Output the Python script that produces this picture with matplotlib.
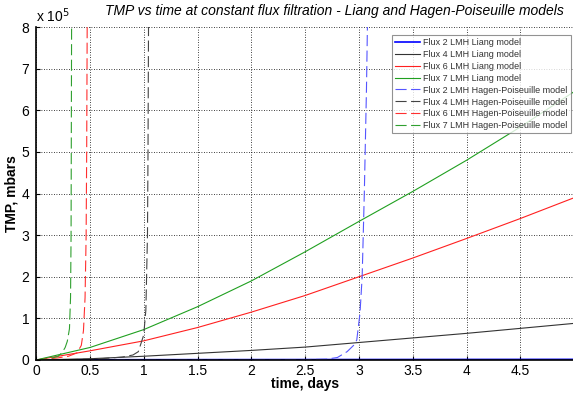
import matplotlib
matplotlib.use("Agg")
import matplotlib.pyplot as plt
from matplotlib.ticker import FuncFormatter

plt.rcParams["font.family"] = ["Liberation Sans", "DejaVu Sans"]

# Liang model (TMP in mbars)
t_liang = [0, 0.5, 1, 1.5, 2, 2.5, 3, 3.5, 4, 4.5, 5]
liang_flux2 = [0, 500, 700, 800, 900, 1000, 1100, 1200, 1300, 1400, 1500]
liang_flux4 = [0, 3000, 9000, 16000, 23000, 31000, 42000, 53000, 64000, 76000, 88000]
liang_flux6 = [0, 22000, 46000, 78000, 115000, 155000, 200000, 245000, 292000, 340000, 390000]
liang_flux7 = [0, 30000, 73000, 128000, 190000, 260000, 333000, 405000, 480000, 560000, 645000]

# Hagen-Poiseuille model
t_hp2 = [0, 1, 2, 2.5, 2.7, 2.8, 2.89, 2.95, 2.98, 3.01, 3.03, 3.05, 3.07, 3.08]
hp_flux2 = [0, 200, 500, 800, 2000, 6000, 20000, 35000, 48000, 113000, 200000, 400000, 650000, 820000]
t_hp4 = [0, 0.2, 0.4, 0.6, 0.8, 0.9, 0.95, 1.0, 1.02, 1.035, 1.04, 1.045]
hp_flux4 = [0, 500, 1500, 3000, 7000, 12000, 20000, 60000, 120000, 300000, 500000, 820000]
t_hp6 = [0, 0.1, 0.2, 0.3, 0.38, 0.42, 0.44, 0.455, 0.465, 0.47, 0.475]
hp_flux6 = [0, 2000, 5000, 9000, 17000, 35000, 70000, 150000, 300000, 500000, 820000]
t_hp7 = [0, 0.1, 0.2, 0.24, 0.27, 0.29, 0.31, 0.32, 0.325, 0.33]
hp_flux7 = [0, 2000, 8000, 17000, 30000, 45000, 75000, 150000, 300000, 820000]

fig = plt.figure(figsize=(5.73, 3.93), dpi=100)
ax = fig.add_axes([0.063, 0.084, 0.939, 0.847])

ax.plot(t_liang, liang_flux2, color="#0000ff", lw=1.2, label="Flux 2 LMH Liang model")
ax.plot(t_liang, liang_flux4, color="#333333", lw=0.8, label="Flux 4 LMH Liang model")
ax.plot(t_liang, liang_flux6, color="#ff2020", lw=0.8, label="Flux 6 LMH Liang model")
ax.plot(t_liang, liang_flux7, color="#20a020", lw=0.8, label="Flux 7 LMH Liang model")

dash = (10, 4)
ax.plot(t_hp2, hp_flux2, color="#5555ff", lw=0.8, dashes=dash, label="Flux 2 LMH Hagen-Poiseuille model")
ax.plot(t_hp4, hp_flux4, color="#444444", lw=0.8, dashes=dash, label="Flux 4 LMH Hagen-Poiseuille model")
ax.plot(t_hp6, hp_flux6, color="#ff3030", lw=0.8, dashes=dash, label="Flux 6 LMH Hagen-Poiseuille model")
ax.plot(t_hp7, hp_flux7, color="#30a030", lw=0.8, dashes=dash, label="Flux 7 LMH Hagen-Poiseuille model")

ax.set_xlim(0, 5)
ax.set_ylim(0, 800000)
ax.set_xticks([0, 0.5, 1, 1.5, 2, 2.5, 3, 3.5, 4, 4.5])
ax.set_yticks([i * 100000 for i in range(9)])
ax.xaxis.set_major_formatter(FuncFormatter(lambda v, p: "%g" % v))
ax.yaxis.set_major_formatter(FuncFormatter(lambda v, p: "%g" % (v / 1e5)))
ax.tick_params(labelsize=10, direction="in", length=3, width=0.8)
ax.tick_params(axis="x", pad=3)
ax.tick_params(axis="y", pad=5)
ax.grid(True, color="black", linestyle=(0, (1, 2)), linewidth=0.6)
for s in ["top", "right"]:
    ax.spines[s].set_visible(False)
for s in ["left", "bottom"]:
    ax.spines[s].set_linewidth(1.2)

ax.text(0.0, 1.005, "x 10$^5$", transform=ax.transAxes, fontsize=10, ha="left", va="bottom")
ax.set_title("TMP vs time at constant flux filtration - Liang and Hagen-Poiseuille models",
             fontsize=10, style="italic", pad=9, x=0.555)
ax.set_xlabel("time, days", fontsize=10, fontweight="bold", labelpad=-1)
ax.set_ylabel("TMP, mbars", fontsize=10, fontweight="bold", labelpad=2)

leg = ax.legend(loc="upper right", bbox_to_anchor=(0.997, 0.982), fontsize=6.5, frameon=True,
                fancybox=False, edgecolor="#777777", handlelength=2.8, handletextpad=0.3,
                labelspacing=0.32, borderpad=0.35, borderaxespad=0.2, labelcolor="#333333")
leg.get_frame().set_linewidth(0.8)

fig.savefig("out.png", dpi=100)
